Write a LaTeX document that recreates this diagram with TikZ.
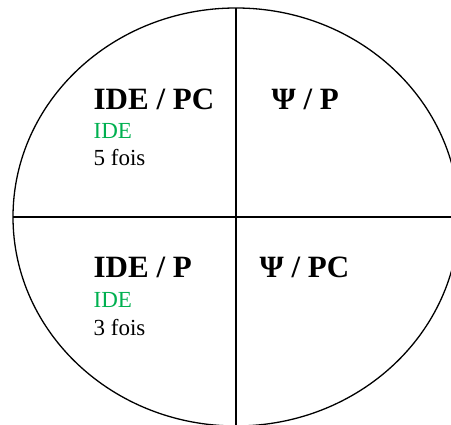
\documentclass[tikz,border=0pt]{standalone}
\usepackage{fontspec}
\setmainfont{Liberation Serif}
\usepackage{xcolor}
\definecolor{idegreen}{HTML}{00B050}
\tikzset{
  line cap=round,
  line join=round,
  every picture/.style={line width=1.3pt},
  quadtitle/.style={anchor=base west, inner sep=0pt, font=\bfseries\fontsize{31}{31}\selectfont},
  quadnote/.style={anchor=base west, inner sep=0pt, font=\fontsize{23}{23}\selectfont},
}
\begin{document}
\begin{tikzpicture}[x=1pt,y=1pt]
	\useasboundingbox (0,0) rectangle (451,425);
	\clip (0,0) rectangle (451,425);
	
	\coordinate (centre) at(236, 208);
	
	% Draw the circle (cut by the frame on the right and at the bottom)
	\draw (centre) ellipse[x radius=223, y radius=209];
	
	% Draw the two axes
	\coordinate (top) at(236, 417);
	\coordinate (bottom) at(236, 0);
	\coordinate (left) at(13, 208);
	\coordinate (right) at(451, 208);
	\draw (top) -- (bottom);
	\draw (left) -- (right);
	
	% Add labels
	\node[quadtitle] (idePC) at (93, 315) {IDE / PC};
	\node[quadnote, text=idegreen] (ideA) at (93, 286) {IDE};
	\node[quadnote] (foisA) at (93, 259) {5 fois};
	\node[quadtitle] (psiP) at (271, 315) {Ψ / P};
	\node[quadtitle] (ideP) at (93, 147) {IDE / P};
	\node[quadnote, text=idegreen] (ideB) at (93, 117) {IDE};
	\node[quadnote] (foisB) at (93, 89) {3 fois};
	\node[quadtitle] (psiPC) at (259, 147) {Ψ / PC};
\end{tikzpicture}
\end{document}
